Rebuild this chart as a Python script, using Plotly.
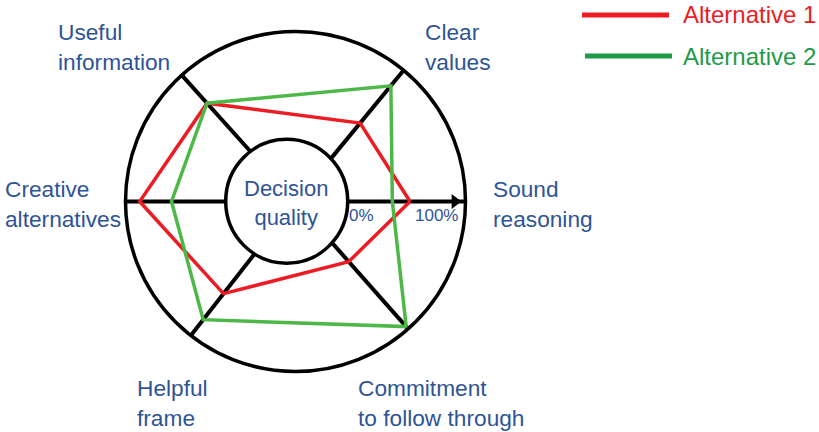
import plotly.graph_objects as go

# criteria going counter-clockwise from the arrow
criteria = ["Sound<br>reasoning", "Clear<br>values", "Useful<br>information",
            "Creative<br>alternatives", "Helpful<br>frame", "Commitment<br>to follow through"]
spoke_deg = [0, 50.5, 132, 180, 232, 311.5]
alt1 = [53, 42, 68, 88, 55, 24]   # % of the way from inner to outer circle
alt2 = [38, 83, 68, 61, 83, 97.5]
series_names = ["Alternative 1", "Alternative 2"]

W, H = 819, 432
cx, cy, R = 295.5, 201.5, 170   # pixel centre / radius of the wheel
hole_px = 52
blue = "#2E5496"
red = "#ED1C24"
green_line = "#4DB848"
green_leg = "#1F9A48"
font = "Liberation Sans, Arial, sans-serif"

fig = go.Figure()
for vals, col in [(alt1, red), (alt2, green_line)]:
    fig.add_trace(go.Scatterpolar(
        r=vals + vals[:1], theta=spoke_deg + spoke_deg[:1],
        mode="lines", line=dict(color=col, width=3.5),
        showlegend=False, hoverinfo="skip", cliponaxis=False))

# arrow head on the "Sound reasoning" spoke
fig.add_trace(go.Scatterpolar(
    r=[91], theta=[0], mode="markers",
    marker=dict(symbol="triangle-right", size=13, color="black"),
    showlegend=False, hoverinfo="skip", cliponaxis=False))

fig.update_layout(
    width=W, height=H,
    margin=dict(l=0, r=0, t=0, b=0),
    paper_bgcolor="white",
    font=dict(family=font, color=blue),
    polar=dict(
        domain=dict(x=[(cx - R) / W, (cx + R) / W],
                    y=[(H - cy - R) / H, (H - cy + R) / H]),
        hole=hole_px / R,
        bgcolor="white",
        radialaxis=dict(range=[0, 100], showgrid=False, showline=False,
                        showticklabels=False, ticks=""),
        angularaxis=dict(thetaunit="degrees", rotation=0, direction="counterclockwise",
                         tickvals=spoke_deg, showticklabels=False, ticks="",
                         showgrid=True, gridcolor="black", gridwidth=3.5,
                         showline=True, linecolor="black", linewidth=3.5),
    ),
)

# inner "Decision quality" circle
fig.add_shape(type="circle", xref="paper", yref="paper",
              xsizemode="pixel", ysizemode="pixel",
              xanchor=286.7 / W, yanchor=(H - 201.3) / H,
              x0=-61, x1=61, y0=-62, y1=62,
              fillcolor="white", line=dict(color="black", width=3.5), layer="above")

fig.add_annotation(x=286 / W, y=(H - 203) / H, xref="paper", yref="paper",
                   text="Decision<br>quality", showarrow=False,
                   font=dict(size=22, color=blue))
fig.add_annotation(x=361.5 / W, y=(H - 215) / H, xref="paper", yref="paper",
                   text="0%", showarrow=False, font=dict(size=17, color=blue))
fig.add_annotation(x=436.5 / W, y=(H - 215) / H, xref="paper", yref="paper",
                   text="100%", showarrow=False, font=dict(size=17, color=blue))

# category labels (left edge, vertical centre in pixels)
label_pos = [(491, 204), (423, 47), (56, 47), (3, 204), (135, 403), (356, 403)]
for txt, (lx, ly) in zip(criteria, label_pos):
    fig.add_annotation(x=lx / W, y=(H - ly) / H, xref="paper", yref="paper",
                       xanchor="left", yanchor="middle", align="left",
                       text=txt, showarrow=False, font=dict(size=22.7, color=blue))

# hand-drawn legend
for name, col, tcol, (x0, x1, ly) in [(series_names[0], red, red, (582, 669, 15)),
                                      (series_names[1], green_leg, green_leg, (585, 672, 56))]:
    fig.add_shape(type="line", xref="paper", yref="paper",
                  x0=x0 / W, x1=x1 / W, y0=(H - ly) / H, y1=(H - ly) / H,
                  line=dict(color=col, width=5))
    fig.add_annotation(x=681 / W, y=(H - ly) / H, xref="paper", yref="paper",
                       xanchor="left", yanchor="middle", text=name, showarrow=False,
                       font=dict(size=24, color=tcol))

# drop the default page margin so the figure sits at the window's corner
fig.write_html("out.html", config={"displayModeBar": False},
               post_script="document.body.style.margin='0';")
